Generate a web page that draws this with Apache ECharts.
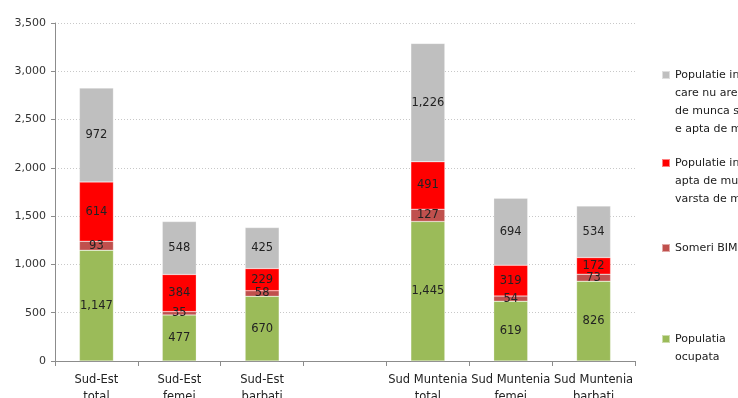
<!DOCTYPE html>
<html>
<head>
<meta charset="utf-8">
<script src="https://cdn.jsdelivr.net/npm/echarts@6/dist/echarts.min.js"></script>
<style>
  html, body { margin: 0; padding: 0; background: #fff; }
  #chart { width: 738px; height: 398px; }
</style>
</head>
<body>
<div id="chart"></div>
<script>
// Categories (the empty slot separates the two regions)
const categories = [
  'Sud-Est\ntotal', 'Sud-Est\nfemei', 'Sud-Est\nbarbati', '',
  'Sud Muntenia\ntotal', 'Sud Muntenia\nfemei', 'Sud Muntenia\nbarbati'
];

// Series values, thousand persons
const populatiaOcupata = [1147, 477, 670, null, 1445, 619, 826];
const someriBIM        = [93, 35, 58, null, 127, 54, 73];
const inactivaApta     = [614, 384, 229, null, 491, 319, 172];
const inactivaNeapta   = [972, 548, 425, null, 1226, 694, 534];

// Value axis ticks
const yTicks = [0, 500, 1000, 1500, 2000, 2500, 3000, 3500];

const names = {
  ocupata: 'Populatia ocupata',
  someri: 'Someri BIM',
  apta: 'Populatie inactiva apta de munca, in varsta de munca',
  neapta: 'Populatie inactiva care nu are varsta de munca sau nu e apta de munca'
};

const legendLines = {};
legendLines[names.neapta] = ['Populatie inactiva', 'care nu are varsta', 'de munca sau nu', 'e apta de munca'];
legendLines[names.apta] = ['Populatie inactiva', 'apta de munca, in', 'varsta de munca'];
legendLines[names.someri] = ['Someri BIM'];
legendLines[names.ocupata] = ['Populatia', 'ocupata'];

const FONT = 'DejaVu Sans';
const LINE = 18;
const fmt = v => Number(v).toLocaleString('en-US');

// One legend block per series. The legend centres its text on the marker,
// so blank lines are put in front to keep the marker on the first line.
function legendBlock(name, markerY) {
  const n = legendLines[name].length;
  return {
    data: [name],
    orient: 'vertical',
    left: 661,
    top: markerY - (LINE * n - 9),
    padding: 0,
    selectedMode: false,
    icon: 'rect',
    itemWidth: 8,
    itemHeight: 8,
    formatter: nm => {
      const lines = legendLines[nm];
      return new Array(lines.length - 1).fill(' ').concat(lines).join('\n');
    },
    textStyle: {
      fontFamily: FONT,
      fontSize: 11,
      color: '#1a1a1a',
      lineHeight: LINE
    }
  };
}

function barSeries(name, data, color) {
  return {
    name: name,
    type: 'bar',
    stack: 'total',
    data: data,
    barWidth: 34,
    itemStyle: { color: color, borderColor: 'rgba(255,255,255,0.5)', borderWidth: 0.5 },
    label: {
      show: true,
      position: 'inside',
      fontFamily: FONT,
      fontSize: 11.5,
      color: '#222',
      formatter: p => fmt(p.value)
    }
  };
}

const chart = echarts.init(document.getElementById('chart'), null, { renderer: 'canvas' });
chart.setOption({
  animation: false,
  backgroundColor: '#fff',
  grid: { left: 55, right: 103, top: 23, bottom: 37, outerBoundsMode: 'none', containLabel: false },
  legend: [
    legendBlock(names.neapta, 75),
    legendBlock(names.apta, 163),
    legendBlock(names.someri, 248),
    legendBlock(names.ocupata, 339)
  ],
  xAxis: {
    type: 'category',
    data: categories,
    axisLine: { lineStyle: { color: '#8c8c8c', width: 1 } },
    axisTick: { show: true, length: 5, lineStyle: { color: '#8c8c8c' } },
    axisLabel: {
      interval: 0,
      margin: 11,
      fontFamily: FONT,
      fontSize: 11.5,
      color: '#222',
      lineHeight: 17
    }
  },
  yAxis: {
    type: 'value',
    min: yTicks[0],
    max: yTicks[yTicks.length - 1],
    interval: yTicks[1] - yTicks[0],
    axisLine: { show: true, lineStyle: { color: '#8c8c8c', width: 1 } },
    axisTick: { show: true, length: 4, lineStyle: { color: '#8c8c8c' } },
    axisLabel: {
      margin: 9,
      fontFamily: FONT,
      fontSize: 11,
      color: '#333',
      formatter: v => fmt(v)
    },
    splitLine: { show: true, lineStyle: { color: '#c8c8c8', type: [1, 2], width: 1 } }
  },
  series: [
    barSeries(names.ocupata, populatiaOcupata, '#9bbb59'),
    barSeries(names.someri, someriBIM, '#c0504d'),
    barSeries(names.apta, inactivaApta, '#ff0000'),
    barSeries(names.neapta, inactivaNeapta, '#bfbfbf')
  ]
});
</script>
</body>
</html>
